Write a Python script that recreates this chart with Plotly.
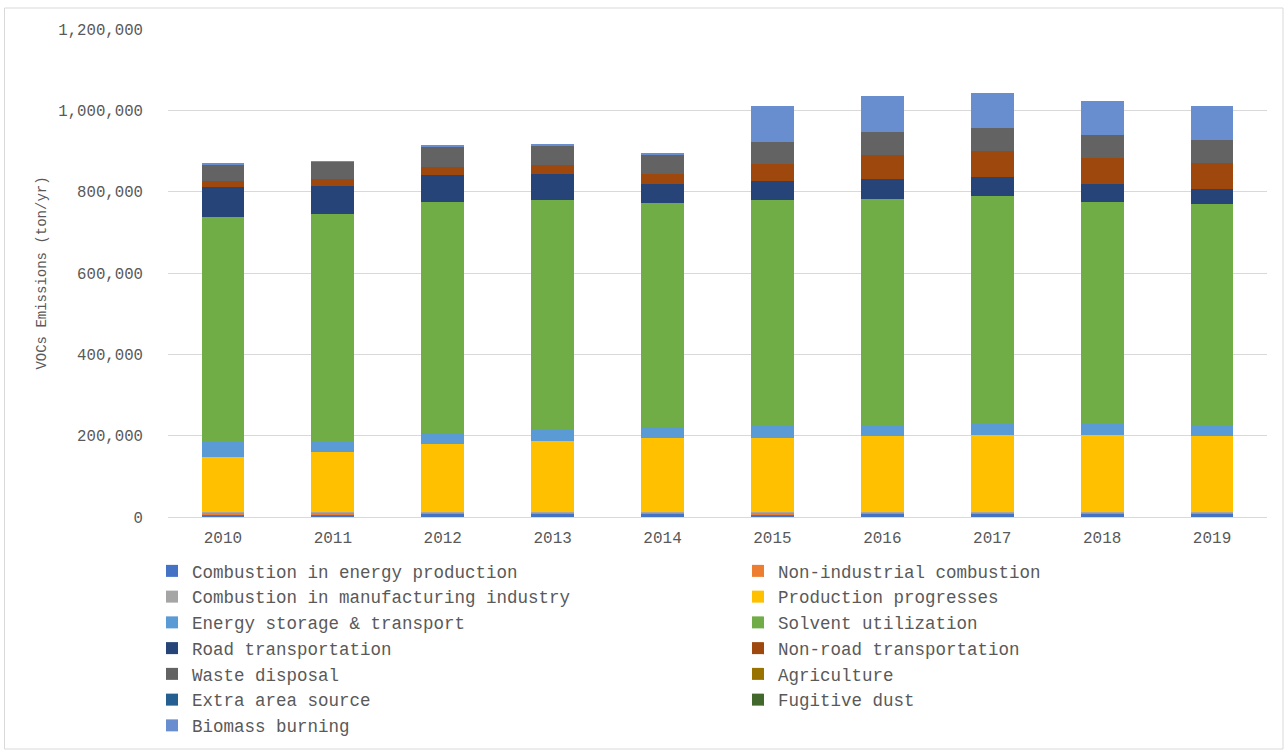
import plotly.graph_objects as go

years = ["2010", "2011", "2012", "2013", "2014", "2015", "2016", "2017", "2018", "2019"]

combustion_energy = [7000, 7000, 7500, 7500, 7500, 6500, 7500, 7500, 7500, 7500]
non_industrial = [3000, 3000, 3000, 3000, 3000, 3500, 3000, 3500, 3500, 3000]
combustion_manufacturing = [2500, 2500, 2500, 2500, 2500, 2500, 2500, 2500, 2500, 2500]
production = [136000, 147500, 167500, 175000, 181000, 183000, 186000, 187500, 187500, 186000]
energy_storage = [35500, 24000, 26400, 26400, 26200, 27100, 24600, 27100, 27100, 24600]
solvent = [553000, 560600, 566500, 564000, 550900, 557600, 559100, 560600, 545800, 546800]
road = [75600, 69900, 67200, 65800, 48500, 45100, 47500, 47800, 45300, 35900]
non_road = [14800, 16300, 20700, 20400, 22900, 41900, 59100, 63000, 64100, 64100]
waste = [39400, 42800, 50700, 49300, 49300, 55900, 57500, 56700, 54900, 55900]
agriculture = [0, 0, 0, 0, 0, 0, 0, 0, 0, 0]
extra_area = [0, 0, 0, 0, 0, 0, 0, 0, 0, 0]
fugitive_dust = [0, 0, 0, 0, 0, 0, 0, 0, 0, 0]
biomass = [1500, 1500, 1500, 1500, 1500, 86900, 87900, 87200, 84500, 85500]

# (name, values, colour, legend column)
series = [
    ("Combustion in energy production", combustion_energy, "#4472C4", "legend"),
    ("Non-industrial combustion", non_industrial, "#ED7D31", "legend2"),
    ("Combustion in manufacturing industry", combustion_manufacturing, "#A5A5A5", "legend"),
    ("Production progresses", production, "#FFC000", "legend2"),
    ("Energy storage & transport", energy_storage, "#5B9BD5", "legend"),
    ("Solvent utilization", solvent, "#70AD47", "legend2"),
    ("Road transportation", road, "#264478", "legend"),
    ("Non-road transportation", non_road, "#9E480E", "legend2"),
    ("Waste disposal", waste, "#636363", "legend"),
    ("Agriculture", agriculture, "#997300", "legend2"),
    ("Extra area source", extra_area, "#255E91", "legend"),
    ("Fugitive dust", fugitive_dust, "#43682B", "legend2"),
    ("Biomass burning", biomass, "#698ED0", "legend"),
]

fig = go.Figure()
for name, vals, color, leg in series:
    fig.add_trace(go.Bar(x=years, y=vals, name=name, legend=leg,
                         marker=dict(color=color, line=dict(width=0))))

W, H = 1285, 750
ml, mr, mt, mb = 168, 18, 29, 233
pw = W - ml - mr
ph = H - mt - mb

def px_x(x):
    return (x - ml) / pw

def px_y(y):
    return (H - mb - y) / ph

MONO = "Liberation Mono"
leg_font = dict(family=MONO, size=17.5, color="#595959")

fig.update_layout(
    width=W, height=H,
    margin=dict(l=ml, r=mr, t=mt, b=mb, autoexpand=False),
    barmode="stack",
    bargap=0.61,
    plot_bgcolor="white",
    paper_bgcolor="white",
    font=dict(family=MONO, color="#595959"),
    xaxis=dict(
        showgrid=False, showline=True, linecolor="#D9D9D9", linewidth=1,
        ticks="", tickfont=dict(family=MONO, size=16, color="#595959"),
        ticklabelstandoff=6,
    ),
    yaxis=dict(
        range=[0, 1200000], dtick=200000, tickformat=",d",
        showgrid=True, gridcolor="#D9D9D9", gridwidth=1,
        zeroline=False, showline=False, ticks="",
        tickfont=dict(family=MONO, size=15.7, color="#595959"),
        ticklabelstandoff=24,
        title=dict(text="VOCs Emissions (ton/yr)", font=dict(family=MONO, size=14, color="#595959"), standoff=8),
    ),
    legend=dict(
        orientation="v", traceorder="normal",
        x=px_x(152), y=px_y(553), xanchor="left", yanchor="top",
        font=leg_font, bgcolor="rgba(0,0,0,0)", itemclick=False,
    ),
    legend2=dict(
        orientation="v", traceorder="normal",
        x=px_x(738), y=px_y(553), xanchor="left", yanchor="top",
        font=leg_font, bgcolor="rgba(0,0,0,0)", itemclick=False,
    ),
    shapes=[dict(
        type="rect", xref="paper", yref="paper",
        x0=px_x(4.5), x1=px_x(1283), y0=px_y(749), y1=px_y(8),
        line=dict(color="#D9D9D9", width=1), layer="below",
    )],
)

fig.write_html("out.html")
